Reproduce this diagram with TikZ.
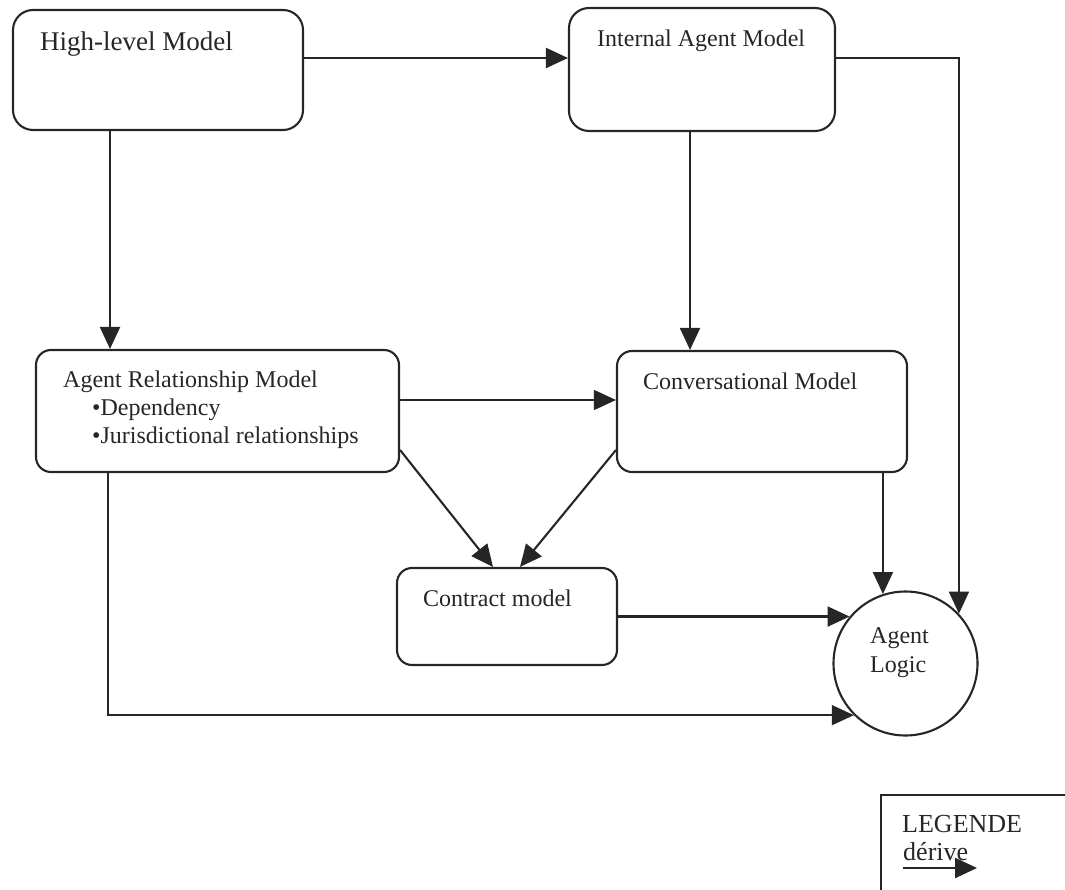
\documentclass[tikz,border=0pt]{standalone}
\usepackage{fontspec}
\setmainfont{Liberation Serif}
\usetikzlibrary{arrows.meta}
\definecolor{ink}{HTML}{262626}
\begin{document}
\begin{tikzpicture}[x=1pt,y=-1pt,
  box/.style={draw=ink, line width=2.1, rounded corners=15, inner sep=0},
  txt/.style={anchor=base west, inner sep=0, text=ink, font=\fontsize{24}{28}\selectfont},
  legtxt/.style={txt, font=\fontsize{26}{30}\selectfont},
  conn/.style={draw=ink, line width=2.1, -{Triangle[length=22,width=20]}},
  thinconn/.style={conn, line width=1.5},
]
\useasboundingbox (0,0) rectangle (1065,890);

% model boxes
\node[box, rounded corners=20, minimum width=290, minimum height=120] (hl) at (158,70) {};
\node[box, rounded corners=20, minimum width=266, minimum height=123] (iam) at (702,69.5) {};
\node[box, minimum width=363, minimum height=122] (arm) at (217.5,411) {};
\node[box, minimum width=290, minimum height=121] (conv) at (762,411.5) {};
\node[box, minimum width=220, minimum height=97] (ctr) at (507,616.5) {};
\node[draw=ink, line width=2.1, circle, minimum size=144, inner sep=0] (logic) at (905.5,663.5) {};

% box titles
\node[txt, font=\fontsize{27}{32}\selectfont] (hlt) at (40,51) {High-level Model};
\node[txt] (iamt) at (597,47) {Internal Agent Model};
\node[txt] (armt) at (63,388) {Agent Relationship Model};
\node[txt] (armb1) at (92,415) {•Dependency};
\node[txt] (armb2) at (92,443) {•Jurisdictional relationships};
\node[txt] (convt) at (643,389) {Conversational Model};
\node[txt] (ctrt) at (423,606) {Contract model};
\node[txt] (lg1) at (870,643) {Agent};
\node[txt] (lg2) at (870,672) {Logic};

% routing guides
\coordinate (yTop) at (0,58);
\coordinate (xHLdown) at (110,0);
\coordinate (xARMdown) at (108,0);
\coordinate (xIAMdown) at (690,0);
\coordinate (yARMconv) at (0,400);
\coordinate (yDiag) at (0,450);
\coordinate (xCtrA) at (493,0);
\coordinate (xCtrB) at (520,0);

% derivation links
\draw[conn] (hl.east |- yTop) -- (iam.west |- yTop);
\draw[conn] (hl.south -| xHLdown) -- (arm.north -| xHLdown);
\draw[conn] (iam.south -| xIAMdown) -- (conv.north -| xIAMdown);
\draw[thinconn] (iam.east |- yTop) -| (logic.43.8);
\draw[thinconn] (arm.east |- yARMconv) -- (conv.west |- yARMconv);
\draw[conn] (arm.east |- yDiag) -- (ctr.north -| xCtrA);
\draw[conn] (conv.west |- yDiag) -- (ctr.north -| xCtrB);
\draw[conn] (conv.south -| logic.108.6) -- (logic.108.6);
\draw[conn] (ctr.east |- logic.140.8) -- (logic.140.8);
\draw[thinconn] (arm.south -| xARMdown) |- (logic.225);

% legend
\coordinate (legBL) at (881,890);
\coordinate (legTL) at (881,795);
\coordinate (legTR) at (1065,795);
\draw[draw=ink, line width=2.1] (legBL) -- (legTL) -- (legTR);
\node[legtxt] (legt) at (902,832) {LEGENDE};
\node[legtxt] (legd) at (903,860) {dérive};
\coordinate (legA) at (903,868);
\coordinate (legB) at (977,868);
\draw[conn, line width=2.5] (legA) -- (legB);
\end{tikzpicture}
\end{document}
